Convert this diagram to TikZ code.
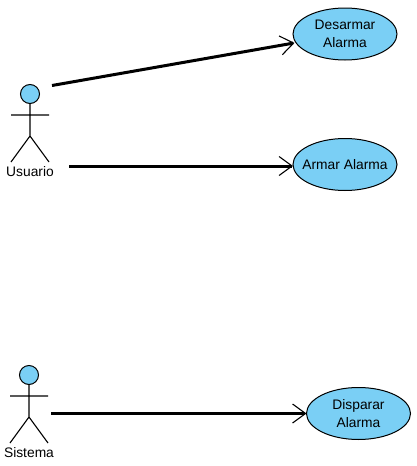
\documentclass[tikz,border=0pt]{standalone}
\usepackage{xcolor}
\usepackage{fontspec}
\setmainfont{Liberation Sans}
\usetikzlibrary{arrows.meta, shapes.geometric}
\definecolor{ucblue}{RGB}{122,207,245}
\tikzset{
    usecase/.style={ellipse, draw, fill=ucblue, line width=1pt, minimum width=104pt, minimum height=52pt, inner xsep=-10pt, inner ysep=-6pt, align=center, font=\fontsize{13.8}{18.5}\selectfont},
    assoc/.style={line width=3pt, -{Straight Barb[length=13pt, width=19pt, line width=1.1pt]}, shorten >=-0.5pt},
    actorname/.style={font=\fontsize{13.8}{16}\selectfont, inner sep=0pt},
    actor/.pic={
        \node[circle, draw, fill=ucblue, line width=1pt, minimum size=19pt, inner sep=0pt] (-head) at (0,0) {};
        \draw[line width=1.1pt] (-head.south) -- (0,42) -- (-19,68) (0,42) -- (19,68) (-19,21) -- (19,21);
        \node[actorname] (-name) at (0,78) {\tikzpictext};
    }
}
\begin{document}
\begin{tikzpicture}[x=1pt, y=-1pt]
        \useasboundingbox (0,0) rectangle (416,466);

        \pic[pic text=Usuario] (usuario) at (30,94) {actor};
        \pic[pic text=Sistema] (sistema) at (29,375) {actor};

        \node[usecase] (desarmar) at (345,34) {Desarmar\\Alarma};
        \node[usecase] (armar) at (345,164.5) {Armar Alarma};
        \node[usecase] (disparar) at (358.5,413.5) {Disparar\\Alarma};

        \coordinate (u1) at (52,85.5);
        \coordinate (u2) at (69,166);
        \coordinate (s1) at (51,413.5);
        \coordinate (d1) at (294,43);

        \draw[assoc] (u1) -- (d1);
        \draw[assoc] (u2) -- (armar.west |- u2);
        \draw[assoc] (s1) -- (disparar.west);
    \end{tikzpicture}
\end{document}
